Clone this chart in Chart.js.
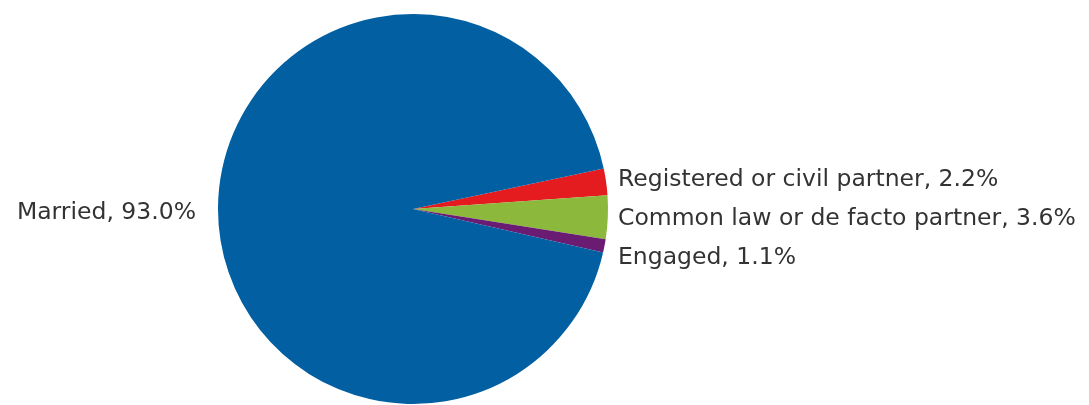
<!DOCTYPE html>
<html>
<head>
<meta charset="utf-8">
<script src="https://cdn.jsdelivr.net/npm/chart.js@4"></script>
<style>
  html, body { margin: 0; padding: 0; background: #fff; }
  #wrap { width: 1089px; height: 405px; }
</style>
</head>
<body>
<div id="wrap"><canvas id="relChart"></canvas></div>
<script>
const categories = ['Registered or civil partner', 'Common law or de facto partner', 'Engaged', 'Married'];
const shares = [2.2, 3.6, 1.1, 93.0];
const sliceColors = ['#e41b1f', '#8cb83c', '#6a1c72', '#015fa2'];

// Slice labels: small slices stacked on the right, the big one on the left
const sliceLabels = {
  id: 'sliceLabels',
  afterDatasetsDraw(chart) {
    const ctx = chart.ctx;
    const arcs = chart.getDatasetMeta(0).data;
    ctx.save();
    ctx.font = '23.5px "DejaVu Sans"';
    ctx.fillStyle = '#333';
    ctx.textBaseline = 'middle';
    const right = [];
    arcs.forEach((arc, i) => {
      const mid = (arc.startAngle + arc.endAngle) / 2;
      const text = categories[i] + ', ' + shares[i].toFixed(1) + '%';
      const y = arc.y + arc.outerRadius * Math.sin(mid);
      if (Math.cos(mid) >= 0) {
        right.push({ text, y, x: arc.x + arc.outerRadius + 10 });
      } else {
        ctx.textAlign = 'right';
        ctx.fillText(text, arc.x - arc.outerRadius - 22, y + 5);
      }
    });
    right.sort((a, b) => a.y - b.y);
    for (let i = 1; i < right.length; i++) {
      if (right[i].y < right[i - 1].y + 39) right[i].y = right[i - 1].y + 39;
    }
    ctx.textAlign = 'left';
    right.forEach(r => ctx.fillText(r.text, r.x, r.y - 2));
    ctx.restore();
  }
};

new Chart(document.getElementById('relChart'), {
  type: 'pie',
  data: {
    labels: categories,
    datasets: [{
      data: shares,
      backgroundColor: sliceColors,
      borderWidth: 0
    }]
  },
  options: {
    responsive: true,
    maintainAspectRatio: false,
    animation: false,
    rotation: 78,
    layout: { padding: { left: 218, right: 481, top: 14, bottom: 1 } },
    plugins: {
      legend: { display: false },
      tooltip: { enabled: false }
    }
  },
  plugins: [sliceLabels]
});
</script>
</body>
</html>
